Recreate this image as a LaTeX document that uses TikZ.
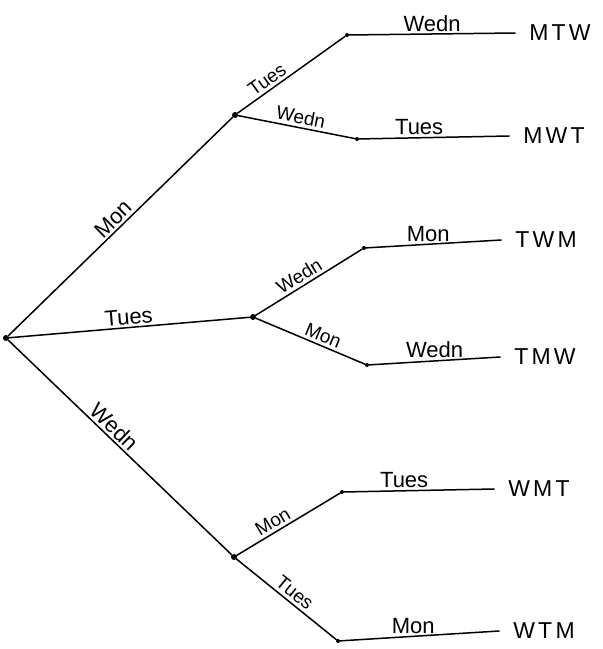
\documentclass[tikz,border=0pt]{standalone}
\usepackage{fontspec}
\setmainfont{Liberation Sans}
\begin{document}
\begin{tikzpicture}[x=1pt,y=-1pt,
  edge/.style={draw, line width=1.5pt, line cap=round},
  dot/.style={circle, fill, inner sep=0pt, minimum size=6pt},
  lab/.style={font=\fontsize{22}{24}\selectfont, inner sep=2pt},
  slab/.style={font=\fontsize{19}{21}\selectfont, inner sep=3pt},
  leaf/.style={font=\fontsize{23}{25}\selectfont\addfontfeature{LetterSpace=14}, inner xsep=14pt, inner ysep=0pt}]
\useasboundingbox (0,0) rectangle (603,649);
% nodes
\node[dot] (R) at (6,338) {};
\node[dot] (M) at (235,115) {};
\node[dot] (T) at (253,317) {};
\node[dot] (W) at (234,557) {};
\node[dot, minimum size=4pt] (MT) at (347,35) {};
\node[dot, minimum size=4pt] (MW) at (357,139) {};
\node[dot, minimum size=4pt] (TW) at (364,248) {};
\node[dot, minimum size=4pt] (TM) at (367,365) {};
\node[dot, minimum size=4pt] (WM) at (342,492) {};
\node[dot, minimum size=4pt] (WT) at (338,641) {};
% leaves
\node[leaf] (MTW) at (560,33) {MTW};
\node[leaf] (MWT) at (554,136) {MWT};
\node[leaf] (TWM) at (546,240) {TWM};
\node[leaf] (TMW) at (545,357) {TMW};
\node[leaf] (WMT) at (539,489) {WMT};
\node[leaf] (WTM) at (544,631) {WTM};
% level 1
\draw[edge] (R) -- node[lab, pos=0.5, sloped, above] {Mon} (M);
\draw[edge] (R) -- node[lab, pos=0.5, sloped, above] {Tues} (T);
\draw[edge] (R) -- node[lab, pos=0.44, sloped, above] {Wedn} (W);
% level 2
\draw[edge] (M) -- node[slab, pos=0.33, sloped, above] {Tues} (MT);
\draw[edge] (M) -- node[slab, pos=0.52, sloped, above] {Wedn} (MW);
\draw[edge] (T) -- node[slab, pos=0.46, sloped, above] {Wedn} (TW);
\draw[edge] (T) -- node[slab, pos=0.58, sloped, above] {Mon} (TM);
\draw[edge] (W) -- node[slab, pos=0.4, sloped, above] {Mon} (WM);
\draw[edge] (W) -- node[slab, pos=0.52, sloped, above] {Tues} (WT);
% level 3
\draw[edge] (MT) -- node[lab, pos=0.5, above] {Wedn} (MTW.west);
\draw[edge] (MW) -- node[lab, pos=0.4, above] {Tues} (MWT.west);
\draw[edge] (TW) -- node[lab, pos=0.46, above] {Mon} (TWM.west);
\draw[edge] (TM) -- node[lab, pos=0.5, above] {Wedn} (TMW.west);
\draw[edge] (WM) -- node[lab, pos=0.4, above] {Tues} (WMT.west);
\draw[edge] (WT) -- node[lab, pos=0.46, above] {Mon} (WTM.west);
\end{tikzpicture}
\end{document}
